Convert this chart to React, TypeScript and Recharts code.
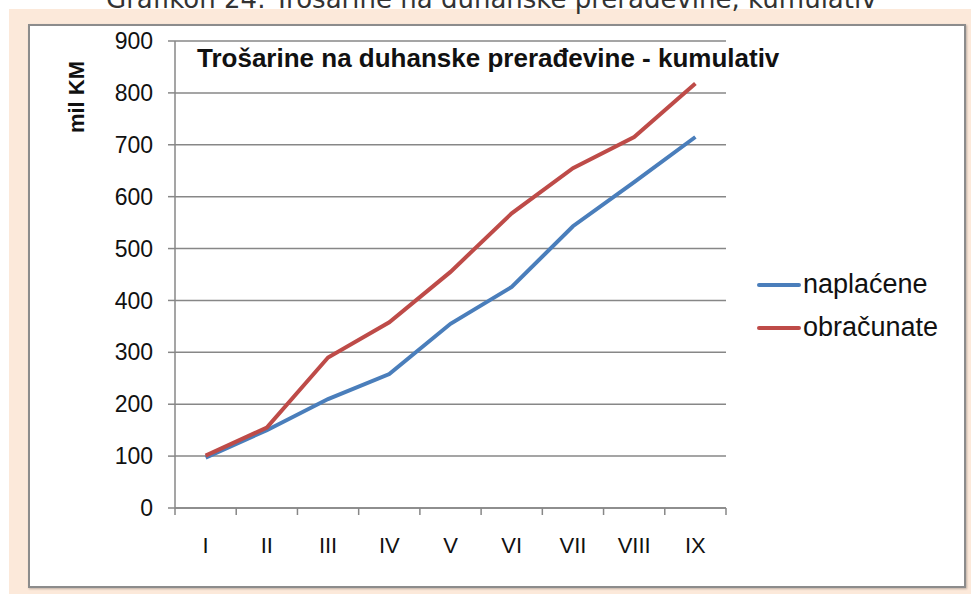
import { CartesianGrid, Legend, Line, LineChart, XAxis, YAxis } from "recharts";

const months = ["I", "II", "III", "IV", "V", "VI", "VII", "VIII", "IX"];
const naplacene = [97, 150, 210, 258, 355, 426, 543, 628, 715];
const obracunate = [101, 155, 290, 358, 455, 568, 655, 715, 818];
const yTicks = [0, 100, 200, 300, 400, 500, 600, 700, 800, 900];

const data = months.map((m, i) => ({
  month: m,
  naplacene: naplacene[i],
  obracunate: obracunate[i],
}));

const FONT = "'Liberation Sans', Arial, sans-serif";
const GREY = "#878787";
const BAND = 551 / months.length;

// x labels sit in the middle of a band, the tick marks on the band edges (Excel style)
function MonthTick(props: any) {
  const { x, y, payload, index, visibleTicksCount } = props;
  const left = x - BAND / 2;
  return (
    <g>
      <line x1={left} x2={left} y1={y} y2={y + 7} stroke={GREY} strokeWidth={1.5} />
      {index === visibleTicksCount - 1 && (
        <line x1={left + BAND} x2={left + BAND} y1={y} y2={y + 7} stroke={GREY} strokeWidth={1.5} />
      )}
      <text x={x} y={y + 45} textAnchor="middle" fontSize={22} fontFamily={FONT} fill="#111">
        {payload.value}
      </text>
    </g>
  );
}

function LegendBox(props: any) {
  const { payload } = props;
  return (
    <div>
      {(payload || []).map((p: any) => (
        <div key={p.value} style={{ display: "flex", alignItems: "center", height: 43 }}>
          <div style={{ width: 44, height: 4, background: p.color, borderRadius: 2 }} />
          <span style={{ fontFamily: FONT, fontSize: 27, color: "#111", marginLeft: 2 }}>{p.value}</span>
        </div>
      ))}
    </div>
  );
}

export default function App() {
  return (
    <div style={{ position: "fixed", left: 0, top: 0, width: 971, height: 594, background: "#fff", overflow: "hidden" }}>
      <div style={{ position: "absolute", left: 9, top: 9, width: 962, height: 585, background: "#FCE9DA" }} />
      <div
        style={{
          position: "absolute",
          left: 28,
          top: 24,
          width: 938,
          height: 564,
          background: "#fff",
          border: "2px solid #8c8c8c",
          boxSizing: "border-box",
          boxShadow: "1px 1px 2px rgba(0,0,0,0.25)",
        }}
      />
      <svg width={971} height={594} style={{ position: "absolute", left: 0, top: 0 }}>
        <text x={106} y={8} fontFamily="'DejaVu Sans', Verdana, sans-serif" fontSize={26} fill="#333">
          Grafikon 24: Trošarine na duhanske prerađevine, kumulativ
        </text>
        <text x={197} y={67} fontFamily={FONT} fontSize={26} fontWeight="bold" fill="#111">
          Trošarine na duhanske prerađevine - kumulativ
        </text>
        <text
          x={0}
          y={0}
          transform="translate(76,97) rotate(-90)"
          textAnchor="middle"
          dominantBaseline="central"
          fontFamily={FONT}
          fontSize={22}
          fontWeight="bold"
          fill="#111"
        >
          mil KM
        </text>
      </svg>
      <div style={{ position: "absolute", left: 0, top: 0 }}>
        <LineChart width={971} height={594} data={data} margin={{ top: 41, right: 245, bottom: 0, left: 0 }}>
          <CartesianGrid vertical={false} stroke={GREY} strokeWidth={1.5} />
          <XAxis
            dataKey="month"
            height={86}
            padding={{ left: BAND / 2, right: BAND / 2 }}
            axisLine={{ stroke: GREY, strokeWidth: 1.5 }}
            tickLine={false}
            tickSize={0}
            tickMargin={0}
            interval={0}
            tick={<MonthTick />}
          />
          <YAxis
            width={175}
            domain={[0, 900]}
            ticks={yTicks}
            interval={0}
            axisLine={{ stroke: GREY, strokeWidth: 1.5 }}
            tickLine={{ stroke: GREY, strokeWidth: 1.5 }}
            tickSize={7}
            tickMargin={15}
            tick={{ fontSize: 23, fontFamily: FONT, fill: "#111" }}
          />
          <Line
            type="linear"
            dataKey="naplacene"
            name="naplaćene"
            stroke="#4A7EBB"
            strokeWidth={4}
            dot={false}
            isAnimationActive={false}
          />
          <Line
            type="linear"
            dataKey="obracunate"
            name="obračunate"
            stroke="#BE4B48"
            strokeWidth={4}
            dot={false}
            isAnimationActive={false}
          />
          <Legend
            layout="vertical"
            align="center"
            verticalAlign="middle"
            content={<LegendBox />}
            wrapperStyle={{ position: "absolute", left: 757, top: 263, width: 214 }}
          />
        </LineChart>
      </div>
    </div>
  );
}
